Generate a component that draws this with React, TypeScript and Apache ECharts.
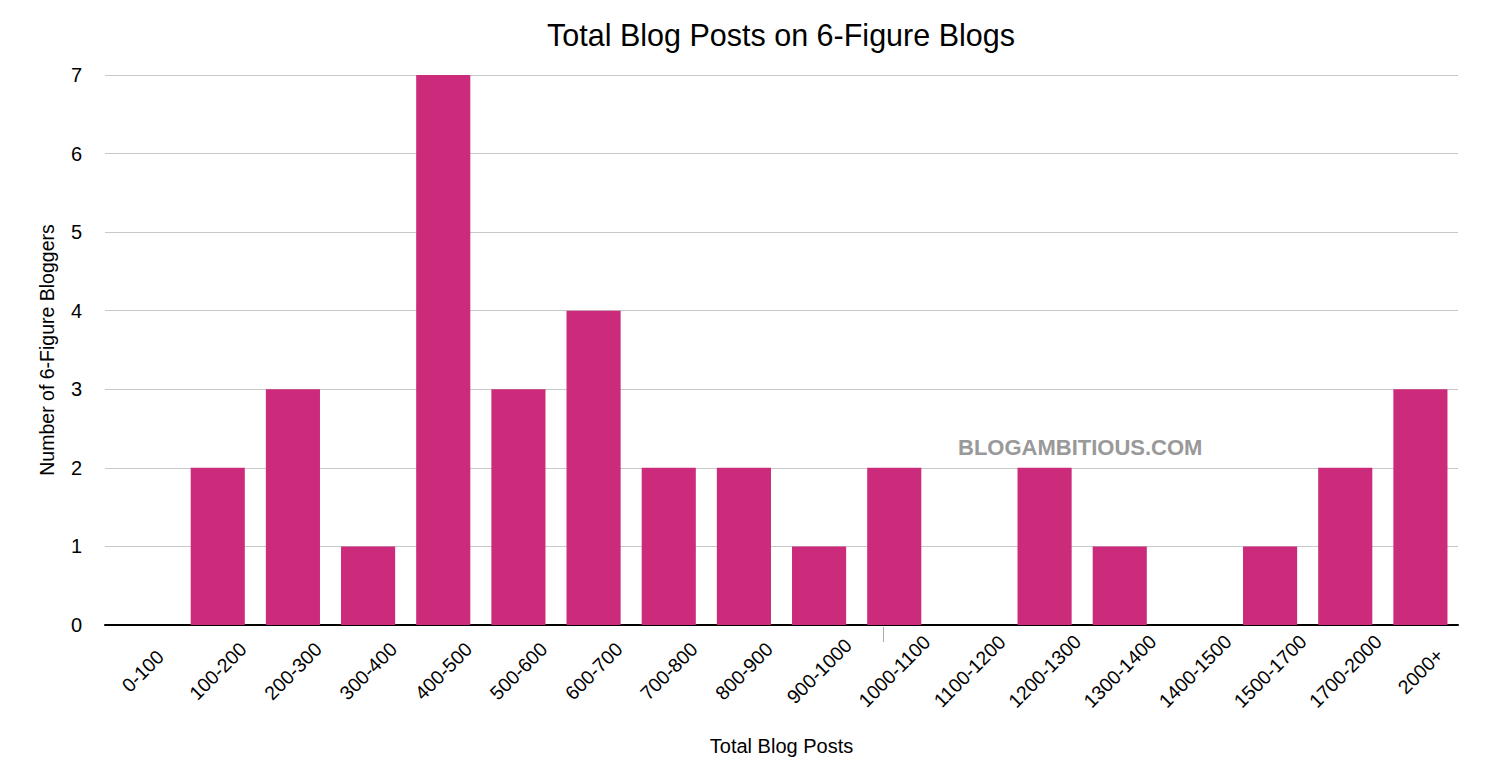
import React, { useEffect, useRef } from "react";
import * as echarts from "echarts";

const categories = [
  "0-100", "100-200", "200-300", "300-400", "400-500", "500-600", "600-700",
  "700-800", "800-900", "900-1000", "1000-1100", "1100-1200", "1200-1300",
  "1300-1400", "1400-1500", "1500-1700", "1700-2000", "2000+",
];
const bloggers = [0, 2, 3, 1, 7, 3, 4, 2, 2, 1, 2, 0, 2, 1, 0, 1, 2, 3];

const FONT = "'Liberation Sans', Arial, Helvetica, sans-serif";

export default function App() {
  const ref = useRef<HTMLDivElement>(null);
  useEffect(() => {
    if (!ref.current) return;
    const chart = echarts.init(ref.current, null, { renderer: "svg" });
    chart.setOption({
      animation: false,
      backgroundColor: "#ffffff",
      title: {
        text: "Total Blog Posts on 6-Figure Blogs",
        left: 776,
        top: 14,
        textAlign: "center",
        textStyle: { fontFamily: FONT, fontSize: 30.5, fontWeight: "normal", color: "#000" },
      },
      grid: { left: 105, right: 42, top: 75, bottom: 144 },
      xAxis: {
        type: "category",
        data: categories,
        name: "Total Blog Posts",
        nameLocation: "middle",
        nameGap: 111,
        nameTextStyle: { fontFamily: FONT, fontSize: 20, color: "#000" },
        axisLine: { lineStyle: { color: "#000", width: 2 } },
        axisTick: { show: false },
        axisLabel: {
          rotate: 45,
          interval: 0,
          margin: 46,
          align: "center",
          verticalAlign: "middle",
          fontFamily: FONT,
          fontSize: 19.5,
          color: "#000",
        },
      },
      yAxis: {
        type: "value",
        min: 0,
        max: 7,
        interval: 1,
        name: "Number of 6-Figure Bloggers",
        nameLocation: "middle",
        nameGap: 48,
        nameTextStyle: { fontFamily: FONT, fontSize: 19.5, color: "#000" },
        axisLine: { show: false },
        axisTick: { show: false },
        axisLabel: { margin: 23, fontFamily: FONT, fontSize: 20, color: "#000" },
        splitLine: { lineStyle: { color: "#c8c8c8", width: 1 } },
      },
      graphic: [
        {
          type: "text",
          left: 958,
          top: 436,
          style: {
            text: "BLOGAMBITIOUS.COM",
            fontFamily: FONT,
            fontSize: 22,
            fontWeight: "bold",
            fill: "#999999",
          },
        },
        {
          type: "line",
          z: 100,
          shape: { x1: 883.5, y1: 627, x2: 883.5, y2: 642 },
          style: { stroke: "#aaaaaa", lineWidth: 1 },
        },
      ],
      series: [
        {
          type: "bar",
          data: bloggers,
          barCategoryGap: "28%",
          itemStyle: { color: "#cc2a7a" },
        },
      ],
    });
    return () => chart.dispose();
  }, []);
  return (
    <div
      ref={ref}
      style={{ position: "fixed", left: 0, top: 0, width: 1500, height: 769 }}
    />
  );
}
